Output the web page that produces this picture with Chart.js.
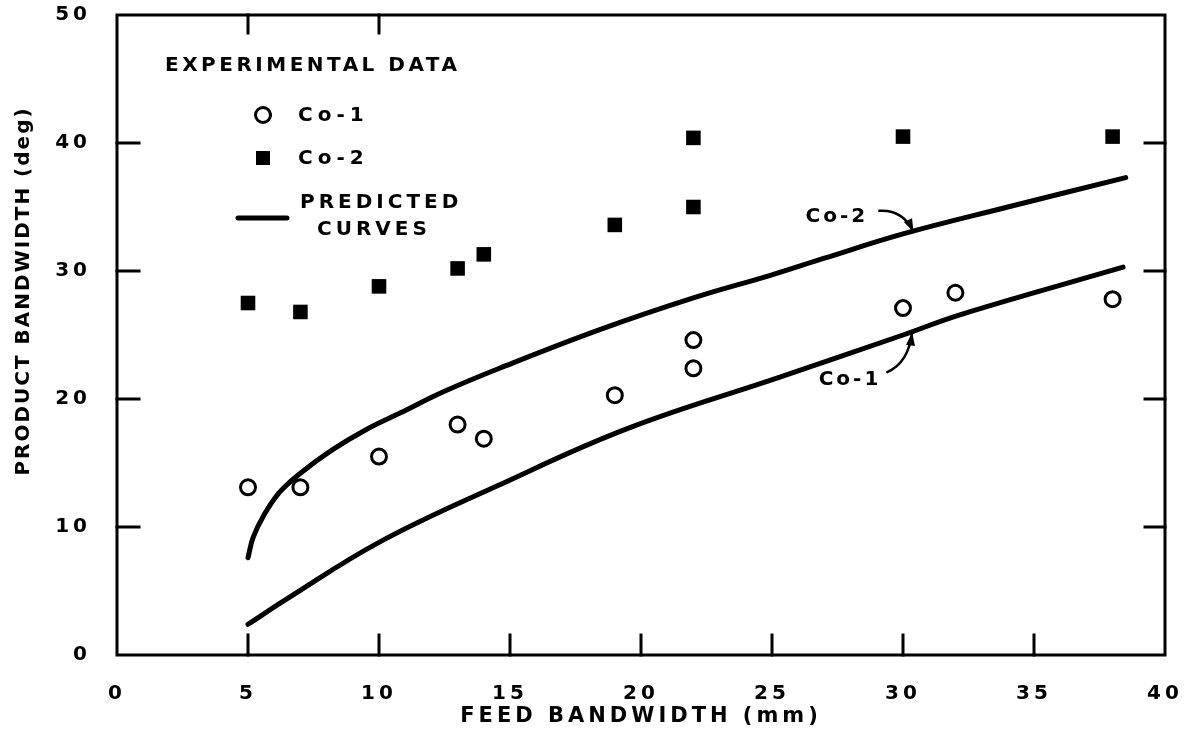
<!DOCTYPE html>
<html><head><meta charset="utf-8">
<script src="https://cdn.jsdelivr.net/npm/chart.js@4"></script>
<style>html,body{margin:0;padding:0;background:#fff}canvas{display:block}</style>
</head><body>
<canvas id="c" width="1194" height="746"></canvas>
<script>
// ---- data ----
const co1X = [5, 7, 10, 13, 14, 19, 22, 22, 30, 32, 38];
const co1Y = [13.1, 13.1, 15.5, 18.0, 16.9, 20.3, 22.4, 24.6, 27.1, 28.3, 27.8];
const co2X = [5, 7, 10, 13, 14, 19, 22, 22, 30, 38];
const co2Y = [27.5, 26.8, 28.8, 30.2, 31.3, 33.6, 35.0, 40.4, 40.5, 40.5];
const pred1X = [5, 6.5, 10, 14.5, 19.5, 25.3, 30, 32.2, 38.4];
const pred1Y = [2.4, 4.4, 8.8, 13.2, 17.7, 21.7, 25.0, 26.6, 30.3];
const pred2X = [5, 5.2, 5.6, 6.2, 7, 8.2, 9.5, 10.8, 12.5, 14.6, 18.4, 22, 25, 27, 30, 34, 38.5];
const pred2Y = [7.6, 9.2, 10.9, 12.7, 14.2, 16.0, 17.6, 18.9, 20.6, 22.4, 25.4, 27.9, 29.7, 31.0, 32.9, 35.0, 37.3];
const xTickValues = [0, 5, 10, 15, 20, 25, 30, 35, 40];
const yTickValues = [0, 10, 20, 30, 40, 50];
const xTitle = 'FEED BANDWIDTH (mm)';
const yTitle = 'PRODUCT BANDWIDTH (deg)';
const legendTitle = 'EXPERIMENTAL DATA';
const seriesNames = ['Co-1', 'Co-2'];
const curveLabel = ['PREDICTED', 'CURVES'];

const zip = (xs, ys) => xs.map((x, i) => ({x, y: ys[i]}));
const FONT = '"DejaVu Sans", "Liberation Sans", sans-serif';
const zeroPad = s => { s.paddingTop = 0; s.paddingBottom = 0; s.paddingLeft = 0; s.paddingRight = 0; };

const framePlugin = {
  id: 'frame',
  beforeDraw(chart) { chart.ctx.letterSpacing = '4px'; },
  afterDraw(chart) {
    const {ctx, chartArea: a, scales: {x, y}} = chart;
    ctx.save();
    ctx.strokeStyle = '#000'; ctx.fillStyle = '#000';
    ctx.lineWidth = 3; ctx.lineCap = 'square';
    ctx.strokeRect(a.left, a.top, a.right - a.left, a.bottom - a.top);
    // inward ticks
    ctx.beginPath();
    [5,10,15,20,25,30,35].forEach(v => { const px = x.getPixelForValue(v); ctx.moveTo(px, a.bottom); ctx.lineTo(px, a.bottom - 20); });
    [5,10].forEach(v => { const px = x.getPixelForValue(v); ctx.moveTo(px, a.top); ctx.lineTo(px, a.top + 18); });
    [10,20,30,40].forEach(v => { const py = y.getPixelForValue(v);
      ctx.moveTo(a.left, py); ctx.lineTo(a.left + 22, py);
      ctx.moveTo(a.right, py); ctx.lineTo(a.right - 20, py); });
    ctx.stroke();

    // y axis title
    ctx.font = 'bold 20px ' + FONT;
    ctx.letterSpacing = '2px';
    ctx.textAlign = 'center'; ctx.textBaseline = 'middle';
    ctx.save();
    ctx.translate(24, 291); ctx.rotate(-Math.PI / 2);
    ctx.fillText(yTitle, 0, 0);
    ctx.restore();

    // legend
    const L = a.left, T = a.top;
    ctx.textAlign = 'left';
    ctx.letterSpacing = '3.5px';
    ctx.fillText(legendTitle, L + 48, T + 51);
    ctx.letterSpacing = '5px';
    ctx.lineWidth = 3;
    ctx.beginPath(); ctx.arc(L + 146, T + 100, 7.5, 0, Math.PI * 2); ctx.stroke();
    ctx.fillText(seriesNames[0], L + 181, T + 101);
    ctx.fillRect(L + 139, T + 136, 14, 14);
    ctx.fillText(seriesNames[1], L + 181, T + 144);
    ctx.lineWidth = 5; ctx.lineCap = 'round';
    ctx.beginPath(); ctx.moveTo(L + 121, T + 203); ctx.lineTo(L + 170, T + 203); ctx.stroke();
    ctx.letterSpacing = '4px';
    ctx.fillText(curveLabel[0], L + 183, T + 188);
    ctx.fillText(curveLabel[1], L + 200, T + 215);

    // curve annotations with arrows
    const P = (vx, vy) => [x.getPixelForValue(vx), y.getPixelForValue(vy)];
    function arrow(s, c, t) {
      ctx.lineWidth = 2.5; ctx.lineCap = 'round';
      ctx.beginPath(); ctx.moveTo(s[0], s[1]); ctx.quadraticCurveTo(c[0], c[1], t[0], t[1]); ctx.stroke();
      const ang = Math.atan2(t[1] - c[1], t[0] - c[0]);
      const hl = 13, hw = 4.5;
      ctx.beginPath();
      ctx.moveTo(t[0], t[1]);
      ctx.lineTo(t[0] - hl * Math.cos(ang) + hw * Math.sin(ang), t[1] - hl * Math.sin(ang) - hw * Math.cos(ang));
      ctx.lineTo(t[0] - hl * Math.cos(ang) - hw * Math.sin(ang), t[1] - hl * Math.sin(ang) + hw * Math.cos(ang));
      ctx.closePath(); ctx.fill();
    }
    ctx.textAlign = 'center';
    ctx.letterSpacing = '3px';
    let p = P(27.4, 34.2); ctx.fillText(seriesNames[1], p[0] + 2, p[1]);
    arrow(P(29.1, 34.7), P(30.0, 34.8), P(30.4, 33.05));
    p = P(27.9, 21.5); ctx.fillText(seriesNames[0], p[0] + 2, p[1]);
    arrow(P(29.4, 22.1), P(30.2, 22.8), P(30.35, 25.2));
    ctx.restore();
    ctx.letterSpacing = '0px';
  }
};

new Chart(document.getElementById('c'), {
  type: 'scatter',
  data: {
    datasets: [
      { label: seriesNames[0], data: zip(co1X, co1Y), pointStyle: 'circle', pointRadius: 7.5,
        pointBorderWidth: 3, borderColor: '#000', backgroundColor: '#fff', pointBackgroundColor: '#fff', pointBorderColor: '#000' },
      { label: seriesNames[1], data: zip(co2X, co2Y), pointStyle: 'rect', pointRadius: 10.3,
        pointBorderWidth: 0, borderColor: '#000', backgroundColor: '#000', pointBackgroundColor: '#000' },
      { label: 'pred Co-1', data: zip(pred1X, pred1Y), showLine: true, pointRadius: 0, borderWidth: 5,
        borderColor: '#000', borderCapStyle: 'round', tension: 0.4 },
      { label: 'pred Co-2', data: zip(pred2X, pred2Y), showLine: true, pointRadius: 0, borderWidth: 5,
        borderColor: '#000', borderCapStyle: 'round', tension: 0.4 }
    ]
  },
  options: {
    responsive: false, animation: false, devicePixelRatio: 1,
    layout: { padding: { top: 15, right: 29, left: 0, bottom: 0 } },
    plugins: { legend: { display: false }, tooltip: { enabled: false } },
    scales: {
      x: {
        type: 'linear', min: 0, max: 40,
        afterFit: s => { s.height = 91; zeroPad(s); },
        afterBuildTicks: s => { s.ticks = xTickValues.map(v => ({value: v})); },
        grid: { display: false }, border: { display: false },
        ticks: { color: '#000', padding: 19, maxRotation: 0, font: { family: FONT, size: 20, weight: 'bold' } },
        title: { display: true, text: xTitle, color: '#000', padding: { top: 0, bottom: 17 },
                 font: { family: FONT, size: 21, weight: 'bold' } }
      },
      y: {
        type: 'linear', min: 0, max: 50,
        afterFit: s => { s.width = 117; zeroPad(s); },
        afterBuildTicks: s => { s.ticks = yTickValues.map(v => ({value: v})); },
        grid: { display: false }, border: { display: false },
        ticks: { color: '#000', padding: 18, font: { family: FONT, size: 20, weight: 'bold' } }
      }
    }
  },
  plugins: [framePlugin]
});
</script>
</body></html>
